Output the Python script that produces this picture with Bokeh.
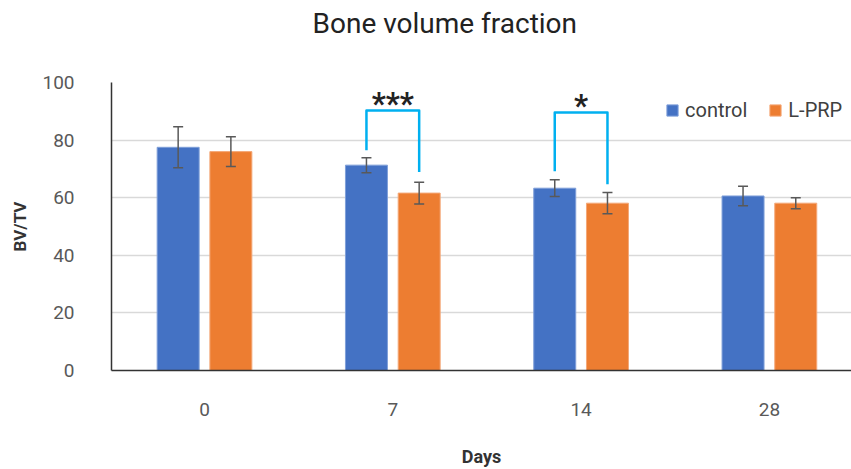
from bokeh.plotting import figure
from bokeh.models import (ColumnDataSource, Range1d, FixedTicker, Whisker, TeeHead,
                          Legend, LegendItem, Title)
from bokeh.core.properties import value
from bokeh.embed import file_html
from bokeh.resources import INLINE

# ---- data ----
days = ["0", "7", "14", "28"]
control_mean = [77.5, 71.3, 63.3, 60.6]
control_err = [7.1, 2.6, 2.9, 3.4]
lprp_mean = [76.0, 61.6, 58.1, 58.1]
lprp_err = [5.2, 3.8, 3.7, 1.9]
sig_day_index = [1, 2]
sig_labels = ["***", "*"]
sig_top = [90.3, 89.6]
sig_left_bottom = [76.5, 69.2]
sig_right_bottom = [68.9, 64.7]
y_ticks = [0, 20, 40, 60, 80, 100]

BLUE = "#4472C4"
ORANGE = "#ED7D31"
FONT = "Roboto"
offset = 0.14
bar_w = 0.223

idx = list(range(len(days)))
xc = [i - offset for i in idx]
xl = [i + offset for i in idx]

p = figure(width=851, height=469, output_backend="svg", toolbar_location=None,
           x_range=Range1d(-0.494, 3.436), y_range=Range1d(0, 100),
           min_border_left=111, min_border_right=0, min_border_top=82,
           min_border_bottom=98, title=None)

# spacer between title and plot area, then the title itself
spacer = Title(text=" ", text_font_size="10px", standoff=30)
p.add_layout(spacer, "above")
main_title = Title(text="Bone volume fraction", align="left", offset=201,
                   text_font=FONT, text_font_size="28px", text_font_style="normal",
                   text_color="#222222", standoff=0)
p.add_layout(main_title, "above")

p.outline_line_color = None
p.xgrid.grid_line_color = None
p.ygrid.grid_line_color = "#d9d9d9"
p.ygrid.grid_line_width = 1.5
p.ygrid.ticker = FixedTicker(ticks=y_ticks)

src_c = ColumnDataSource(dict(x=xc, top=control_mean,
                              lo=[m - e for m, e in zip(control_mean, control_err)],
                              hi=[m + e for m, e in zip(control_mean, control_err)]))
src_l = ColumnDataSource(dict(x=xl, top=lprp_mean,
                              lo=[m - e for m, e in zip(lprp_mean, lprp_err)],
                              hi=[m + e for m, e in zip(lprp_mean, lprp_err)]))

r_c = p.vbar(x="x", top="top", bottom=0, width=bar_w, source=src_c,
             fill_color=BLUE, line_color="#7f9fd9", line_width=1)
r_l = p.vbar(x="x", top="top", bottom=0, width=bar_w, source=src_l,
             fill_color=ORANGE, line_color="#f4a878", line_width=1)

for src in (src_c, src_l):
    w = Whisker(base="x", lower="lo", upper="hi", source=src, level="overlay",
                line_color="#595959", line_width=1.5,
                upper_head=TeeHead(size=10, line_color="#595959", line_width=1.5),
                lower_head=TeeHead(size=10, line_color="#595959", line_width=1.5))
    p.add_layout(w)

# significance brackets
bxs = []
bys = []
for k, i in enumerate(sig_day_index):
    bxs.append([i - offset, i - offset, i + offset, i + offset])
    bys.append([sig_left_bottom[k], sig_top[k], sig_top[k], sig_right_bottom[k]])
p.multi_line(xs=bxs, ys=bys, line_color="#00B0F0", line_width=2.5,
             line_join="round")
p.text(x=sig_day_index, y=sig_top, text=sig_labels, text_align="center",
       text_baseline="alphabetic", y_offset=-7, text_font=value(FONT),
       text_font_size="31px", text_font_style="bold", text_color="#222222")

# axes
p.xaxis.ticker = FixedTicker(ticks=idx)
p.xaxis.major_label_overrides = {i: d for i, d in zip(idx, days)}
p.xaxis.axis_label = "Days"
p.yaxis.axis_label = "BV/TV"
p.yaxis.ticker = FixedTicker(ticks=y_ticks)
for ax in (p.xaxis[0], p.yaxis[0]):
    ax.axis_line_color = "#333333"
    ax.axis_line_width = 1.5
    ax.major_tick_line_color = None
    ax.minor_tick_line_color = None
    ax.major_label_text_font = FONT
    ax.major_label_text_font_size = "19px"
    ax.major_label_text_color = "#595959"
    ax.axis_label_text_font = FONT
    ax.axis_label_text_font_style = "bold"
    ax.axis_label_text_color = "#333333"
p.xaxis.axis_label_text_font_size = "18px"
p.yaxis.axis_label_text_font_size = "17px"
p.xaxis.major_label_standoff = 26
p.xaxis.axis_label_standoff = 27
p.yaxis.major_label_standoff = 31
p.yaxis.axis_label_standoff = 9

legend = Legend(items=[LegendItem(label="control", renderers=[r_c]),
                       LegendItem(label="L-PRP", renderers=[r_l])],
                orientation="horizontal", location=(554, 248),
                glyph_width=14, glyph_height=14, label_standoff=6, spacing=21,
                padding=0, margin=0, border_line_color=None,
                background_fill_alpha=0,
                label_text_font=FONT, label_text_font_size="20px",
                label_text_color="#404040")
p.add_layout(legend)

open("out.html", "w").write(file_html(p, INLINE))
